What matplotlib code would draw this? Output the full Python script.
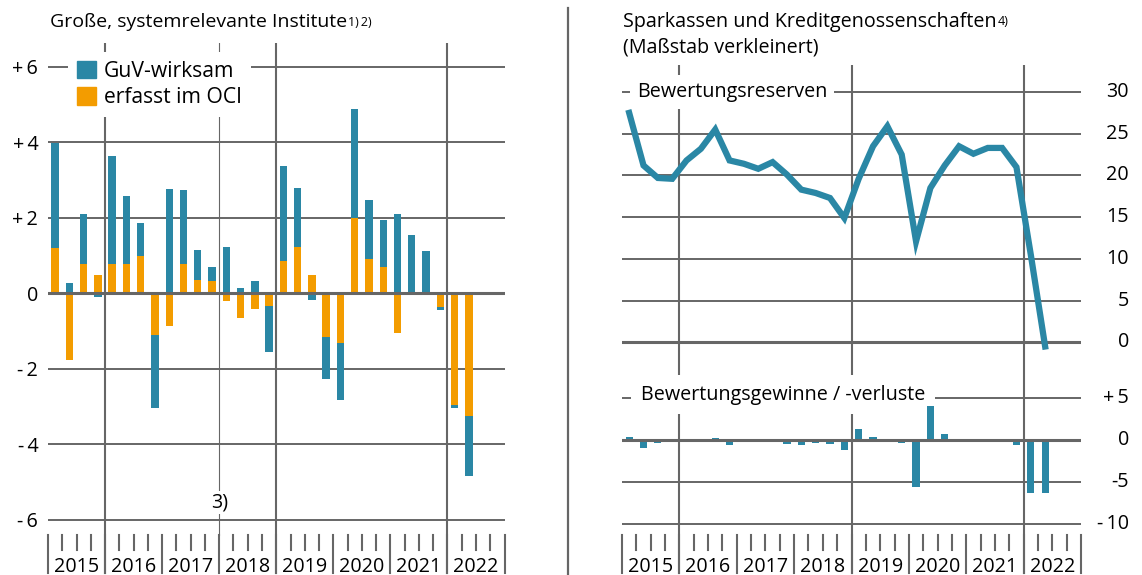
import matplotlib
matplotlib.use("Agg")
import matplotlib.pyplot as plt
import matplotlib.transforms as mtransforms
from matplotlib.lines import Line2D
from matplotlib.patches import Patch
import numpy as np

plt.rcParams["font.family"] = ["Open Sans", "DejaVu Sans"]
plt.rcParams["font.size"] = 14.2

years = ["2015", "2016", "2017", "2018", "2019", "2020", "2021", "2022"]

# large, systemically important institutions, Q1 2015 .. Q2 2022 (bn)
guv = [2.78, 0.27, 1.34, -0.11, 2.87, 1.80, 0.86, -1.93, 2.75, 1.95, 0.80, 0.37,
       1.22, 0.15, 0.33, -1.23, 2.50, 1.56, -0.19, -1.12, -1.51, 2.90, 1.56, 1.25,
       2.11, 1.55, 1.12, -0.08, -0.07, -1.59]
oci = [1.21, -1.78, 0.77, 0.48, 0.78, 0.78, 0.99, -1.10, -0.87, 0.78, 0.36, 0.33,
       -0.21, -0.66, -0.42, -0.33, 0.86, 1.22, 0.48, -1.16, -1.32, 1.99, 0.90, 0.69,
       -1.05, 0.0, 0.0, -0.37, -2.96, -3.26]

# savings banks and credit cooperatives
reserves = [27.5, 21.2, 19.7, 19.6, 21.8, 23.2, 25.5, 21.8, 21.4, 20.8, 21.6, 20.1,
            18.3, 17.9, 17.3, 14.9, 19.6, 23.5, 25.9, 22.5, 12.1, 18.5, 21.2, 23.5,
            22.6, 23.3, 23.3, 21.0, 10.5, -0.5]
gains = [0.3, -0.9, -0.3, -0.2, 0.1, 0.05, 0.2, -0.6, -0.1, -0.05, 0.15, -0.5,
         -0.55, -0.35, -0.45, -1.15, 1.3, 0.3, 0.05, -0.4, -5.6, 4.05, 0.77, -0.05,
         -0.1, -0.05, -0.1, -0.57, -6.3, -6.3]

left_ticks = [-6, -4, -2, 0, 2, 4, 6]
left_labels = ["-\u20096", "-\u20094", "-\u20092", "0", "+\u20092", "+\u20094", "+\u20096"]
res_ticks = [0, 5, 10, 15, 20, 25, 30]
gain_ticks = [-10, -5, 0, 5]
gain_labels = ["-\u200910", "-5", "0", "+\u20095"]

BLUE = "#2a87a5"
ORANGE = "#f39c00"
GREY = "#666666"

W, H = 1142, 575
fig = plt.figure(figsize=(W / 100, H / 100), dpi=100)


def add_axes_px(x0, top, x1, bottom):
    return fig.add_axes([x0 / W, 1 - bottom / H, (x1 - x0) / W, (bottom - top) / H])


def clean(ax):
    for s in ax.spines.values():
        s.set_visible(False)
    ax.set_xticks([])
    ax.tick_params(length=0)
    ax.set_xlim(-0.5, 31.5)
    ax.patch.set_alpha(0)


def year_ticks(ax, y_top, y_q, y_yr, y_lab):
    tr = mtransforms.blended_transform_factory(ax.transData, ax.transAxes)
    for k in range(len(years) + 1):
        ax.add_line(Line2D([4 * k - 0.5] * 2, [y_top, y_yr], transform=tr,
                           color=GREY, lw=1.5, clip_on=False))
    for q in range(32):
        if q % 4:
            ax.add_line(Line2D([q - 0.5] * 2, [y_top, y_q], transform=tr,
                               color=GREY, lw=1.5, clip_on=False))
    for k, yr in enumerate(years):
        ax.text(4 * k + 1.5, y_lab, yr, transform=tr, ha="center", va="baseline")


# ---------------- left panel ----------------
ax = add_axes_px(48, 43, 504.5, 575)
clean(ax)
ax.set_ylim(-7.462, 6.630)
x = np.arange(len(guv))
g = np.array(guv)
o = np.array(oci)
bottom = np.where(np.sign(g) == np.sign(o), o, 0)
ax.bar(x, o, width=0.52, color=ORANGE, zorder=2)
ax.bar(x, g, bottom=bottom, width=0.52, color=BLUE, zorder=2)
for v in left_ticks:
    ax.axhline(v, color=GREY, lw=2.2 if v == 0 else 1.4, zorder=3 if v == 0 else 1)
ax.set_yticks(left_ticks, left_labels)
ax.tick_params(axis="y", pad=7)
for xv in [3.5, 15.5, 27.5]:
    ax.axvline(xv, ymin=0.004, ymax=1, color=GREY, lw=1.5, zorder=1)
ax.axvline(11.5, ymin=0.075, ymax=1, color=GREY, lw=0.8, zorder=1)
ax.text(11.5, -5.55, "3)", ha="center", va="center",
        bbox=dict(facecolor="white", edgecolor="none", pad=1))
year_ticks(ax, 0.0752, 0.047, 0.0038, 0.0056)
leg = ax.legend(handles=[Patch(color=BLUE, label="GuV-wirksam"),
                         Patch(color=ORANGE, label="erfasst im OCI")],
                loc="upper left", bbox_to_anchor=(68 / W, 1 - 52 / H),
                bbox_transform=fig.transFigure, borderaxespad=0, frameon=True,
                fancybox=False, framealpha=1, facecolor="white", edgecolor="none",
                fontsize=15.2, handlelength=0.9, handleheight=0.9,
                handletextpad=0.38, labelspacing=0.25, borderpad=0.42)
leg.set_zorder(5)

t1 = fig.text(50 / W, 1 - 27 / H, "Große, systemrelevante Institute", va="baseline",
              fontsize=14)

# ---------------- right panel ----------------
axu = add_axes_px(622, 65, 1081, 360)
clean(axu)
axu.set_ylim(-2.12, 33.24)
for v in res_ticks:
    axu.axhline(v, color=GREY, lw=2.2 if v == 0 else 1.4, zorder=1)
for xv in [3.5, 15.5, 27.5]:
    axu.axvline(xv, color=GREY, lw=1.5, zorder=1)
axu.plot(np.arange(len(reserves)), reserves, color=BLUE, lw=4.5,
         solid_joinstyle="miter", clip_on=False, zorder=4)
axu.set_yticks([])
tru = mtransforms.blended_transform_factory(axu.transAxes, axu.transData)
for v in res_ticks:
    axu.text(1.0 + 48 / 459, v, str(v), transform=tru, ha="right", va="center")
axu.text(15 / 459, 30, "Bewertungsreserven", transform=tru, ha="left", va="center",
         zorder=1.5, bbox=dict(facecolor="white", edgecolor="none", pad=5))

axl = add_axes_px(622, 360, 1081, 575)
clean(axl)
axl.set_ylim(-16.07, 9.52)
for v in gain_ticks:
    axl.axhline(v, color=GREY, lw=2.2 if v == 0 else 1.4, zorder=3 if v == 0 else 1)
for xv in [3.5, 15.5, 27.5]:
    axl.axvline(xv, ymin=0.0093, ymax=1, color=GREY, lw=1.5, zorder=1)
axl.bar(np.arange(len(gains)), gains, width=0.5, color=BLUE, zorder=2)
axl.set_yticks([])
trl = mtransforms.blended_transform_factory(axl.transAxes, axl.transData)
for v, lab in zip(gain_ticks, gain_labels):
    axl.text(1.0 + 48 / 459, v, lab, transform=trl, ha="right", va="center")
axl.text(19 / 459, 5.4, "Bewertungsgewinne / -verluste", transform=trl, ha="left",
         va="center", zorder=1.5, bbox=dict(facecolor="white", edgecolor="none", pad=7))
year_ticks(axl, 0.186, 0.116, 0.0093, 0.014)

t2 = fig.text(623 / W, 1 - 27 / H, "Sparkassen und Kreditgenossenschaften", va="baseline")
fig.text(623 / W, 1 - 52 / H, "(Maßstab verkleinert)", va="baseline")

fig.add_artist(Line2D([568 / W] * 2, [0, 1 - 8 / H], color=GREY, lw=1.6))

# superscript footnote markers placed right after the titles
fig.canvas.draw()
r = fig.canvas.get_renderer()
for t, s in [(t1, "1)\u20092)"), (t2, "4)")]:
    bb = t.get_window_extent(r)
    fig.text(bb.x1 / W + 1 / W, bb.y1 / H - 3 / H, s, fontsize=9, va="top")

fig.savefig("out.png", dpi=100)
